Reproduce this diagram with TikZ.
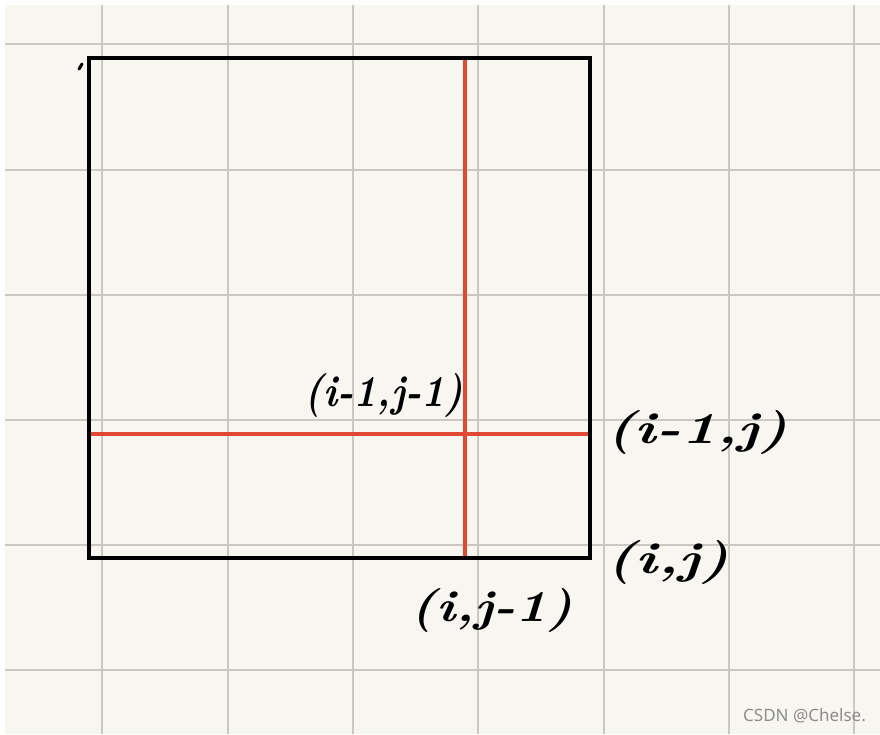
\documentclass[tikz,border=0pt]{standalone}
\usepackage{fontspec}
\newfontfamily\markfont{Noto Sans}
\usetikzlibrary{positioning}

\definecolor{paper}{HTML}{F8F6F1}
\definecolor{gridgray}{HTML}{CBC7C1}
\definecolor{cutred}{HTML}{E04A35}

\begin{document}
\begin{tikzpicture}[
    x=1pt, y=-1pt,
    gridline/.style={gridgray, line width=2pt},
    frame/.style={black, line width=4pt, line join=miter},
    cut/.style={cutred, line width=3.5pt},
    hand/.style={font=\fontsize{44}{46}\selectfont\bfseries\itshape, inner sep=0pt, transform shape},
    wmark/.style={gray!90, font=\markfont\fontsize{17}{19}\selectfont, inner sep=0pt}
]
\useasboundingbox (0,0) rectangle (880,734);
\fill[white] (0,0) rectangle (880,734);
\fill[paper] (5,5) rectangle (880,734);

% grid
\foreach \gx in {102,228,353,478,604,729,854}
    \draw[gridline] (\gx,5) -- (\gx,734);
\foreach \gy in {44,170,295,420,545,670}
    \draw[gridline] (5,\gy) -- (880,\gy);

% corners of the table
\coordinate (tl) at (89,58);
\coordinate (tr) at (590,58);
\coordinate (br) at (590,558);
\coordinate (bl) at (89,558);
\coordinate (ctop) at (465,58);
\coordinate (cbot) at (465,558);
\coordinate (rleft) at (89,434);
\coordinate (rright) at (590,434);

\draw[cut] (ctop) -- (cbot);
\draw[cut] (rleft) -- (rright);
\draw[frame] (tl) -- (tr) -- (br) -- (bl) -- cycle;

% small tick
\draw[black, line width=3pt, line cap=round] (79,69) -- (82,64);

% labels
\node[hand, xscale=0.9] (nw) at (384,395) {(i-1,j-1)};
\node[hand, xscale=1.36] (ne) at (697,432) {(i-1,j)};
\node[hand, xscale=1.38] (se) at (668,562) {(i,j)};
\node[hand, xscale=1.22] (sw) at (492,610) {(i,j-1)};

\node[wmark, anchor=east] (wm) at (866,716) {CSDN @Chelse.};
\end{tikzpicture}
\end{document}
